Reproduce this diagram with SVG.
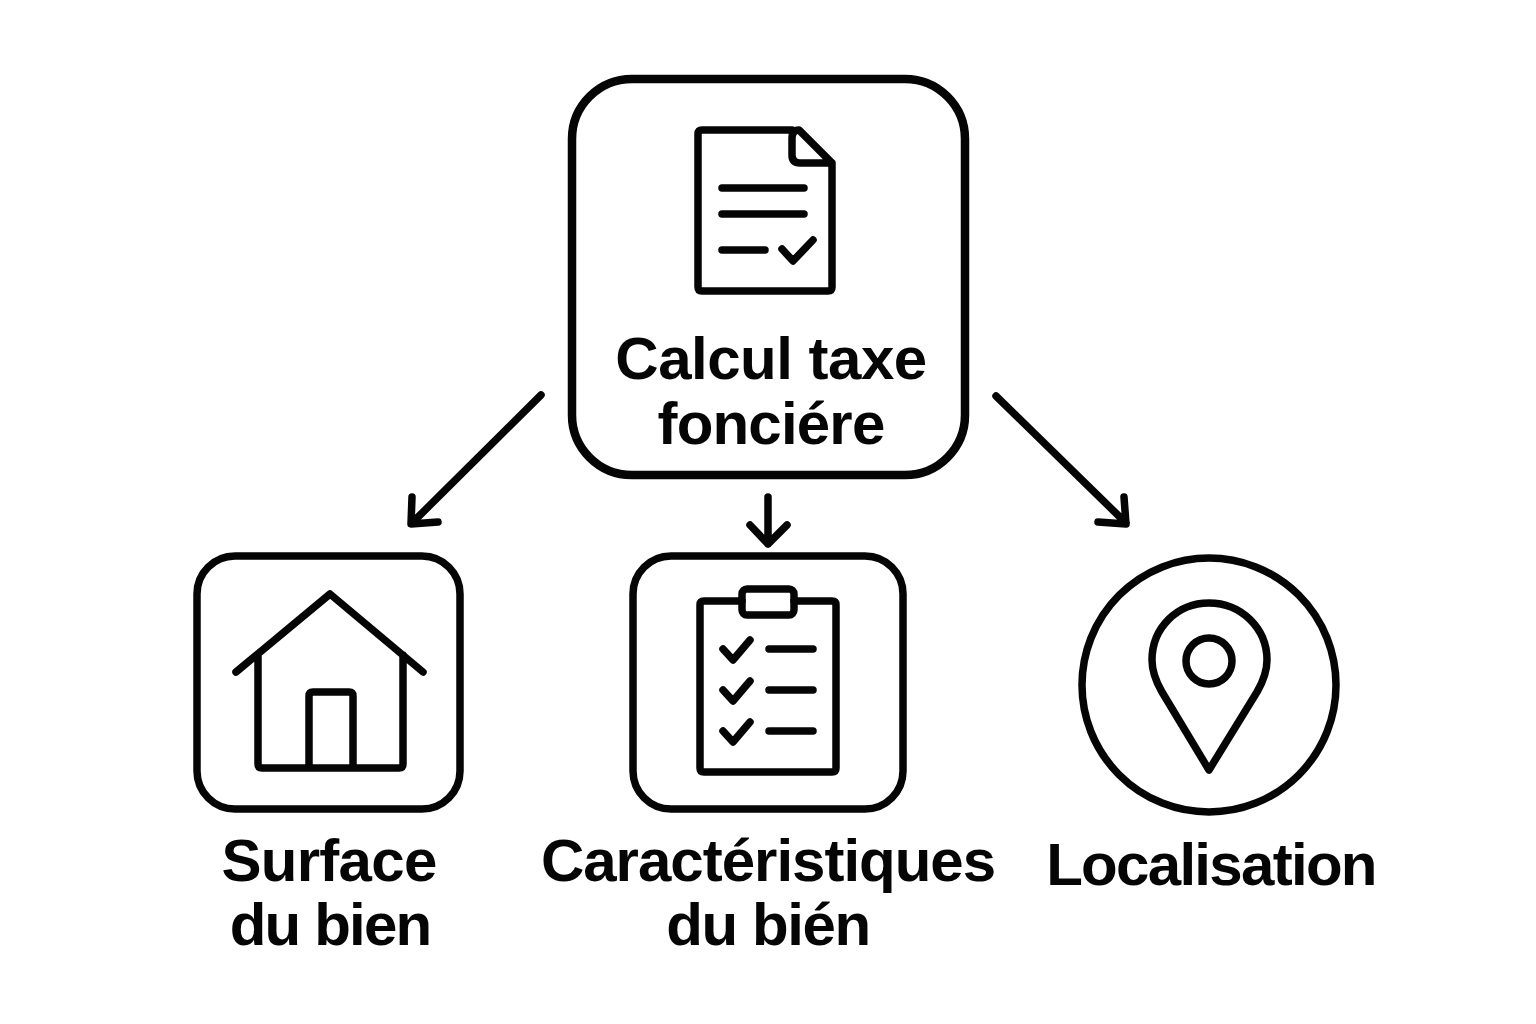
<svg xmlns="http://www.w3.org/2000/svg" width="1536" height="1024" viewBox="0 0 1536 1024">
<style>
.s{fill:none;stroke:#050505;stroke-linecap:round;stroke-linejoin:round;stroke-width:7.5}
.t{font-family:"Liberation Sans",Arial,sans-serif;font-weight:700;font-size:60px;fill:#050505;text-anchor:middle}
</style>
<rect width="1536" height="1024" fill="#fff"/>
<g id="connectors" class="s">
<path d="M541 395L412 523M412 497L411 524L438 522"/>
<path d="M768 497V544M750 525L768 544L787 525"/>
<path d="M996 396L1126 523M1124 497L1126 524L1098 522"/>
</g>
<g id="node-calcul">
<rect class="s" x="572" y="79" width="393" height="396" rx="60" style="stroke-width:8.5"/>
<path class="s" d="M792 130H702Q698 130 698 134V287Q698 291 702 291H828Q832 291 832 287V163L799 130Q792 130 792 138V155Q792 163 800 163H832"/>
<path class="s" d="M722 188H804M722 214H804M722 250H765M782 249L793 261L813 240"/>
<text class="t" x="771" y="379" letter-spacing="-0.5">Calcul taxe</text>
<text class="t" x="771" y="444" letter-spacing="-0.8">fonciére</text>
</g>
<g id="node-surface">
<rect class="s" x="197" y="556" width="263" height="253" rx="38"/>
<path class="s" d="M236 672L330 594L423 672M258 655V764Q258 768 262 768H399Q403 768 403 764V655M309 768V696Q309 692 313 692H349Q353 692 353 696V768"/>
<text class="t" x="329" y="881" letter-spacing="-0.7">Surface</text>
<text class="t" x="330" y="945" letter-spacing="-1.8">du bien</text>
</g>
<g id="node-caracteristiques">
<rect class="s" x="633" y="556" width="270" height="253" rx="38"/>
<path class="s" d="M742 601H704Q700 601 700 605V768Q700 772 704 772H832Q836 772 836 768V605Q836 601 832 601H794"/>
<rect class="s" x="742" y="589" width="52" height="26" rx="5"/>
<path class="s" d="M723 649L733 660L750 640M723 690L733 701L750 681M723 731L733 742L750 722M769 649H813M769 690H813M769 731H813"/>
<text class="t" x="768" y="881" letter-spacing="-1">Caractéristiques</text>
<text class="t" x="768" y="945" letter-spacing="-1.4">du bién</text>
</g>
<g id="node-localisation">
<circle class="s" cx="1209" cy="685" r="127"/>
<path class="s" d="M1209 770L1162 692C1155 680 1152 670 1152 660C1152 628 1177 603 1209 603C1241 603 1267 628 1267 660C1267 670 1264 680 1257 692Z"/>
<circle class="s" cx="1209" cy="661" r="23"/>
<text class="t" x="1211" y="885" letter-spacing="-1.7">Localisation</text>
</g>
</svg>
